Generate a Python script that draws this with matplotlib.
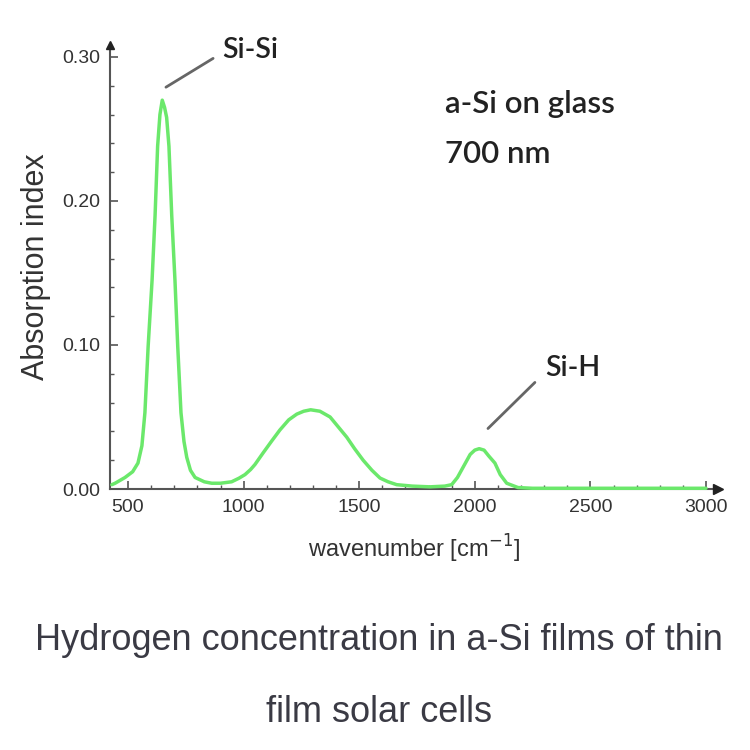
import matplotlib
matplotlib.use("Agg")
import matplotlib.pyplot as plt
from matplotlib.ticker import MultipleLocator, FormatStrFormatter

# ---- data ----
wavenumber = [430, 444, 487, 520, 543, 560, 573, 587, 604, 617, 628, 638, 648,
              658, 667, 677, 689, 703, 715, 729, 742, 754, 770, 790, 830, 862,
              900, 948, 980, 1006, 1030, 1049, 1084, 1120, 1157, 1195, 1230, 1260, 1290,
              1330, 1374, 1410, 1446, 1480, 1517, 1555, 1590, 1625, 1662, 1730,
              1806, 1870, 1900, 1925, 1949, 1980, 2000, 2019, 2040, 2060, 2087,
              2110, 2138, 2187, 2250, 3000]
absorption = [0.003, 0.004, 0.008, 0.012, 0.018, 0.030, 0.053, 0.099, 0.145,
              0.190, 0.238, 0.260, 0.270, 0.265, 0.258, 0.238, 0.190, 0.145,
              0.099, 0.053, 0.033, 0.022, 0.013, 0.008, 0.005, 0.004, 0.004,
              0.005, 0.0075, 0.010, 0.0135, 0.017, 0.025, 0.033, 0.041, 0.048, 0.052, 0.054,
              0.055, 0.054, 0.050, 0.043, 0.036, 0.028, 0.020, 0.013, 0.0076,
              0.005, 0.003, 0.002, 0.0015, 0.002, 0.003, 0.008, 0.015, 0.024,
              0.027, 0.028, 0.027, 0.023, 0.018, 0.010, 0.004, 0.001, 0.0005,
              0.0005]
x_ticks = [500, 1000, 1500, 2000, 2500, 3000]
y_ticks = [0.00, 0.10, 0.20, 0.30]
peak_labels = ["Si-Si", "Si-H"]
sample_text = ["a-Si on glass", "700 nm"]
caption = ["Hydrogen concentration in a-Si films of thin", "film solar cells"]

W = H = 750
fig = plt.figure(figsize=(7.5, 7.5), dpi=100)

def fx(px):
    return px / W

def fy(py):
    return 1 - py / H

left, right, top, bottom = 110, 718, 45, 489
ax = fig.add_axes([fx(left), fy(bottom), fx(right) - fx(left), fy(top) - fy(bottom)])

ax.plot(wavenumber, absorption, color="#6be86b", lw=2.5, solid_capstyle="round",
        solid_joinstyle="round", zorder=3, clip_on=False)

ax.set_xlim(422, 3052)
ax.set_ylim(0, 0.3083)
ax.set_xticks(x_ticks)
ax.set_yticks(y_ticks)
ax.xaxis.set_minor_locator(MultipleLocator(100))
ax.yaxis.set_minor_locator(MultipleLocator(0.02))
ax.yaxis.set_major_formatter(FormatStrFormatter("%.2f"))

axis_col = "#555555"
for s in ["top", "right"]:
    ax.spines[s].set_visible(False)
for s in ["left", "bottom"]:
    ax.spines[s].set_color(axis_col)
    ax.spines[s].set_linewidth(1.5)

ax.tick_params(which="major", direction="in", length=6, width=1.2, color=axis_col,
               labelcolor="#333333", pad=7)
ax.tick_params(which="minor", direction="in", length=3, width=1.0, color=axis_col)
for lab in ax.get_xticklabels() + ax.get_yticklabels():
    lab.set_fontfamily(["Liberation Sans", "DejaVu Sans"])
    lab.set_fontsize(14)

# axis arrows
ax.plot(1, 0, marker=">", color="#222222", ms=7, transform=ax.transAxes, clip_on=False, zorder=4)
ax.plot(0, 1, marker="^", color="#222222", ms=6, transform=ax.transAxes, clip_on=False, zorder=4)

ax.set_xlabel("wavenumber [cm$^{-1}$]", fontsize=17, color="#333333",
              family=["Liberation Sans", "DejaVu Sans"], labelpad=12)
ax.set_ylabel("Absorption index", fontsize=22, color="#333333",
              family=["Liberation Sans", "DejaVu Sans"], labelpad=8)

# annotation leader lines
ax.annotate("", xy=(664, 0.279), xytext=(868, 0.299),
            arrowprops=dict(arrowstyle="-", color="#666666", lw=2, shrinkA=0, shrinkB=0),
            annotation_clip=False)
ax.annotate("", xy=(2057, 0.042), xytext=(2260, 0.074),
            arrowprops=dict(arrowstyle="-", color="#666666", lw=2, shrinkA=0, shrinkB=0),
            annotation_clip=False)

ann_font = dict(family=["Lato", "DejaVu Sans"], color="#222222", weight="semibold")
fig.text(fx(222), fy(50), peak_labels[0], ha="left", va="center", fontsize=20.5, **ann_font)
fig.text(fx(545), fy(368), peak_labels[1], ha="left", va="center", fontsize=20.5, **ann_font)
fig.text(fx(445), fy(104), sample_text[0], ha="left", va="center", fontsize=22.5, **ann_font)
fig.text(fx(445), fy(154), sample_text[1], ha="left", va="center", fontsize=22.5, **ann_font)

cap_font = dict(family=["Liberation Sans", "DejaVu Sans"], fontsize=26, color="#3a3a44")
fig.text(fx(379), fy(640), caption[0], ha="center", va="center", **cap_font)
fig.text(fx(379), fy(712), caption[1], ha="center", va="center", **cap_font)

fig.savefig("out.png", dpi=100, facecolor="white")
